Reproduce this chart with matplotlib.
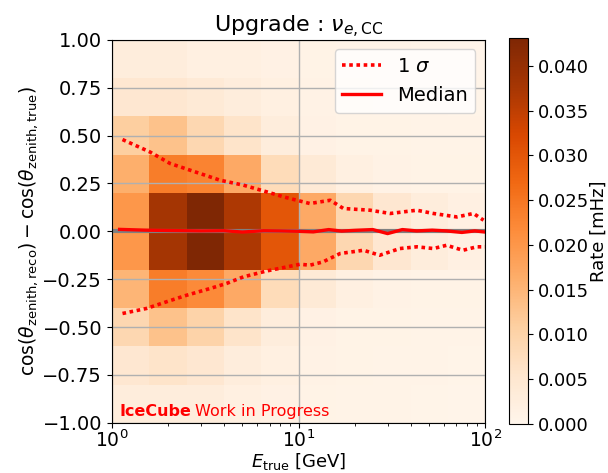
import numpy as np
import matplotlib
matplotlib.use("Agg")
import matplotlib.pyplot as plt

# binning: 5 log bins per decade in energy, 0.2 wide bins in cos difference
e_edges = np.logspace(0, 2, 11)
dcos_edges = np.linspace(-1, 1, 11)

# rate per energy bin, listed from dcos=-1 up to dcos=+1  [mHz]
rate_cols = [
    [0.003, 0.005, 0.009, 0.015, 0.020, 0.020, 0.016, 0.011, 0.005, 0.003],
    [0.003, 0.006, 0.013, 0.024, 0.038, 0.038, 0.024, 0.013, 0.005, 0.003],
    [0.003, 0.005, 0.010, 0.022, 0.0431, 0.0431, 0.023, 0.009, 0.004, 0.002],
    [0.002, 0.003, 0.006, 0.017, 0.037, 0.037, 0.017, 0.006, 0.003, 0.002],
    [0.0015, 0.002, 0.003, 0.008, 0.030, 0.030, 0.008, 0.003, 0.002, 0.0015],
    [0.001, 0.0012, 0.0015, 0.004, 0.017, 0.017, 0.004, 0.0015, 0.0012, 0.001],
    [0.0008, 0.0009, 0.001, 0.002, 0.009, 0.009, 0.002, 0.001, 0.0009, 0.0008],
    [0.0007, 0.0008, 0.0009, 0.0012, 0.005, 0.005, 0.0012, 0.0009, 0.0008, 0.0007],
    [0.0006, 0.0007, 0.0008, 0.001, 0.003, 0.003, 0.001, 0.0008, 0.0007, 0.0006],
    [0.0005, 0.0006, 0.0007, 0.0009, 0.0018, 0.0018, 0.0009, 0.0007, 0.0006, 0.0005],
]

# 1 sigma band edges
up_e = [1.14, 1.60, 2.05, 2.96, 3.79, 5.06, 6.75, 8.29, 9.0, 11.5, 14.8, 17.4,
        24.2, 31.0, 43.0, 52.8, 70.5, 86.6, 98.0]
up_val = [0.479, 0.414, 0.354, 0.302, 0.267, 0.241, 0.206, 0.180, 0.171, 0.145,
          0.162, 0.119, 0.110, 0.093, 0.110, 0.093, 0.075, 0.093, 0.058]
lo_e = [1.14, 1.53, 1.96, 2.51, 3.35, 4.12, 5.06, 6.75, 8.65, 10.2, 11.5, 13.5,
        16.7, 22.3, 27.2, 34.9, 43.0, 52.8, 62.1, 76.0, 90.1, 100.0]
lo_val = [-0.429, -0.403, -0.368, -0.334, -0.299, -0.272, -0.238, -0.207, -0.186,
          -0.172, -0.177, -0.160, -0.116, -0.099, -0.125, -0.090, -0.081, -0.090,
          -0.073, -0.099, -0.081, -0.081]

# median
med_e = [1.1, 1.5, 2.0, 3.0, 4.0, 5.0, 6.5, 8.0, 10.0, 12.0, 14.5, 17.0, 20.0,
         25.0, 30.0, 36.0, 43.0, 52.0, 62.0, 75.0, 88.0, 100.0]
med_val = [0.010, 0.006, 0.004, 0.002, 0.003, -0.004, 0.003, 0.002, 0.0, -0.003,
           0.009, 0.001, 0.005, 0.009, -0.012, 0.009, 0.002, 0.006, 0.002, -0.006,
           0.002, -0.004]

rates = np.array(rate_cols).T

fig = plt.figure(figsize=(6.08, 4.73), dpi=100)
ax = fig.add_axes([0.184, 0.106, 0.614, 0.810])
cax = fig.add_axes([0.837, 0.104, 0.032, 0.815])

mesh = ax.pcolormesh(e_edges, dcos_edges, rates, cmap="Oranges",
                     vmin=0, vmax=rates.max())
ax.set_xscale("log")
ax.set_xlim(1, 100)
ax.set_ylim(-1, 1)
ax.grid(True, color="#b0b0b0", lw=1)
ax.axhline(0, color="grey", lw=3, zorder=2)

ax.plot(up_e, up_val, color="red", ls=(0, (1, 1)), lw=2.6, label=r"1 $\sigma$")
ax.plot(lo_e, lo_val, color="red", ls=(0, (1, 1)), lw=2.6)
ax.plot(med_e, med_val, color="red", lw=2.4, label="Median")

ax.set_yticks(np.arange(-1, 1.01, 0.25))
ax.tick_params(labelsize=14)
ax.tick_params(axis="x", pad=1, labelsize=13.5)
ax.set_xlabel(r"$E_{\mathrm{true}}$ [GeV]", fontsize=13, labelpad=0)
ax.set_ylabel(r"$\cos(\theta_{\mathrm{zenith,reco}}) - \cos(\theta_{\mathrm{zenith,true}})$",
              fontsize=13.5, labelpad=2)
ax.set_title(r"Upgrade : $\nu_{e,\mathrm{CC}}$", fontsize=16, pad=3)
ax.legend(loc="upper right", fontsize=14)

t1 = ax.text(0.02, 0.018, "IceCube", color="red", fontsize=11.5, fontweight="bold",
             transform=ax.transAxes)
ax.annotate("Work in Progress", xy=(1, 0), xycoords=t1, xytext=(3, 0),
            textcoords="offset points", va="bottom", color="red", fontsize=11.5)

cb = fig.colorbar(mesh, cax=cax)
cb.set_ticks(np.arange(0, 0.0401, 0.005))
cb.ax.tick_params(labelsize=13)
cb.set_label("Rate [mHz]", fontsize=13, labelpad=0)

fig.savefig("out.png", dpi=100)
